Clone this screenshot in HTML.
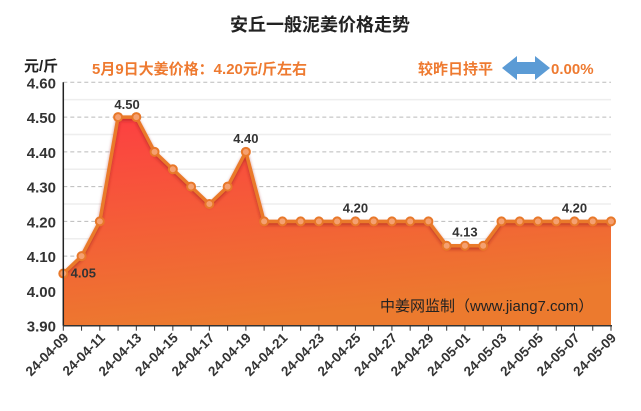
<!DOCTYPE html>
<html><head><meta charset="utf-8"><style>
body{margin:0;background:#fff;}
svg{display:block;font-family:"Liberation Sans","Noto Sans CJK SC",sans-serif;}
</style></head><body>
<svg id="c" width="641" height="411">
<defs>
<linearGradient id="g" x1="0" y1="0" x2="0.25" y2="1">
<stop offset="0" stop-color="#fd3f42"/><stop offset="1" stop-color="#ec7a2e"/>
</linearGradient>
<filter id="sh" x="-5%" y="-5%" width="110%" height="120%"><feDropShadow dx="0" dy="2" stdDeviation="1.5" flood-color="#a02020" flood-opacity="0.6"/></filter>
</defs>
<text x="320" y="31" text-anchor="middle" font-size="18" font-weight="bold" fill="#222">安丘一般泥姜价格走势</text>
<text x="24" y="71" font-size="15" font-weight="bold" fill="#222">元/斤</text>
<text x="92" y="74" font-size="15" font-weight="bold" fill="#ee7a30">5月9日大姜价格：4.20元/斤左右</text>
<text x="418" y="74" font-size="15" font-weight="bold" fill="#ee7a30">较昨日持平</text>
<path d="M502 68 L517 56 L517 62 L535 62 L535 56 L550 68 L535 80 L535 74 L517 74 L517 80 Z" fill="#5b9bd5"/>
<text x="551" y="74" font-size="15" font-weight="bold" fill="#ee7a30">0.00%</text>
<g id="grid"></g>
<g id="area"></g>
<g id="axes"></g>
<text x="380" y="311" font-size="15" fill="#222">中姜网监制（www.jiang7.com）</text>
</svg>
<script>
const dates=["24-04-09","24-04-10","24-04-11","24-04-12","24-04-13","24-04-14","24-04-15","24-04-16","24-04-17","24-04-18","24-04-19","24-04-20","24-04-21","24-04-22","24-04-23","24-04-24","24-04-25","24-04-26","24-04-27","24-04-28","24-04-29","24-04-30","24-05-01","24-05-02","24-05-03","24-05-04","24-05-05","24-05-06","24-05-07","24-05-08","24-05-09"];
const prices=[4.05,4.10,4.20,4.50,4.50,4.40,4.35,4.30,4.25,4.30,4.40,4.20,4.20,4.20,4.20,4.20,4.20,4.20,4.20,4.20,4.20,4.13,4.13,4.13,4.20,4.20,4.20,4.20,4.20,4.20,4.20];
const yTicks=[3.90,4.00,4.10,4.20,4.30,4.40,4.50,4.60];
const NS="http://www.w3.org/2000/svg";
const X0=63.3,X1=611,Y0=325.7,Y1=82.3,ymin=3.9,ymax=4.6;
const x=i=>X0+(X1-X0)*i/(dates.length-1);
const y=v=>Y0-(v-ymin)/(ymax-ymin)*(Y0-Y1);
function mk(tag,attrs,parent){const e=document.createElementNS(NS,tag);for(const k in attrs)e.setAttribute(k,attrs[k]);parent.appendChild(e);return e;}
const grid=document.getElementById('grid'),area=document.getElementById('area'),axes=document.getElementById('axes');
yTicks.forEach((t,i)=>{
  if(i>0){const l=mk('line',{x1:X0,x2:X1,y1:y(t),y2:y(t),stroke:'#bbb','stroke-dasharray':'4,3'},grid);
  
  
  const m=mk('line',{x1:X0,x2:X1,y1:y(t-0.05),y2:y(t-0.05),stroke:'#eee','stroke-width':1.5},grid);
  
  }
  const tx=mk('text',{x:56,y:y(t)+6,'text-anchor':'end','font-size':15,'font-weight':'bold',fill:'#333'},axes);
  tx.textContent=t.toFixed(2);
  
  
});
let d=`M${x(0)} ${Y0}`;prices.forEach((v,i)=>d+=` L${x(i)} ${y(v)}`);d+=` L${x(prices.length-1)} ${Y0} Z`;
const a=mk('path',{d:d,fill:'url(#g)'},area);


const ln=mk('polyline',{points:prices.map((v,i)=>x(i)+','+y(v)).join(' '),fill:'none',stroke:'#ea7a2c','stroke-width':3.5,filter:'url(#sh)'},area);


prices.forEach((v,i)=>{const c=mk('circle',{cx:x(i),cy:y(v),r:4,fill:'#f5a070',stroke:'#e8782a','stroke-width':2},area);

});
const ann=[[0,"4.05",20,4],[3,"4.50",9,-8],[10,"4.40",0,-9],[16,"4.20",0,-9],[22,"4.13",0,-9],[28,"4.20",0,-9]];
ann.forEach(([i,s,dx,dy])=>{const t=mk('text',{x:x(i)+dx,y:y(prices[i])+dy,'text-anchor':'middle','font-size':13,'font-weight':'bold',fill:'#333'},area);t.textContent=s;

});
const ax=mk('line',{x1:X0,x2:X0,y1:Y1,y2:Y0,stroke:'#222','stroke-width':1.5},axes);


const bx=mk('line',{x1:X0,x2:X1+1,y1:Y0,y2:Y0,stroke:'#333','stroke-width':1.5},axes);


dates.forEach((s,i)=>{const tk=mk('line',{x1:x(i),x2:x(i),y1:Y0,y2:Y0+5,stroke:'#333'},axes);


if(i%2===0){const px=x(i)+6,py=Y0+13;const t=mk('text',{x:px,y:py,'text-anchor':'end','font-size':13.5,'font-weight':'bold',fill:'#333',transform:`rotate(-45 ${px} ${py})`},axes);t.textContent=s;

}});
</script>
</body></html>
